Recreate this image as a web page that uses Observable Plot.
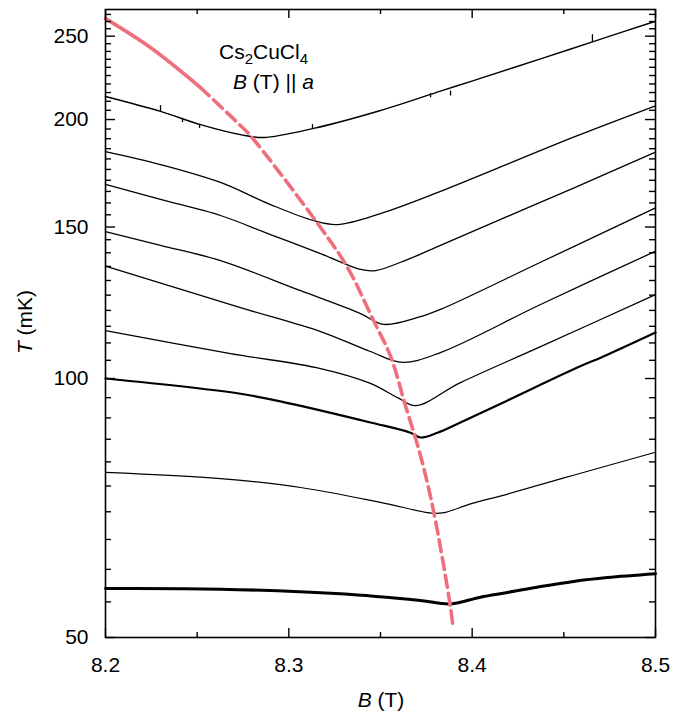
<!DOCTYPE html>
<html><head><meta charset="utf-8">
<script src="https://cdn.jsdelivr.net/npm/d3@7"></script>
<script src="https://cdn.jsdelivr.net/npm/@observablehq/plot@0.6"></script>
<style>body{margin:0;background:#fff} svg{display:block}</style>
</head><body><div id="chart"></div>
<script>
// ---- data (B in tesla, T in mK) ----
const c1B = [8.200, 8.230, 8.2518, 8.2736, 8.2862, 8.3135, 8.350, 8.3827, 8.4007, 8.4373, 8.4656, 8.500];
const c1T = [212.7, 204.4, 197.3, 192.1, 190.6, 195.3, 204.9, 215.8, 222.0, 235.3, 246.2, 260.2];
const c2B = [8.200, 8.230, 8.2627, 8.290, 8.3135, 8.3265, 8.350, 8.3827, 8.4193, 8.4553, 8.500];
const c2T = [183.6, 177.3, 169.0, 159.3, 152.6, 151.0, 155.5, 165.0, 177.5, 190.8, 207.5];
const c3B = [8.200, 8.230, 8.2627, 8.290, 8.3173, 8.3391, 8.3473, 8.3647, 8.3827, 8.4193, 8.4553, 8.500];
const c3T = [168.1, 161.5, 154.7, 147.0, 139.7, 133.9, 133.5, 137.5, 142.8, 154.3, 166.5, 183.3];
const c4B = [8.200, 8.230, 8.2627, 8.3064, 8.3391, 8.3516, 8.3718, 8.3827, 8.4373, 8.500];
const c4T = [148.2, 142.8, 137.1, 126.5, 119.0, 115.6, 118.0, 120.3, 136.5, 157.9];
const c5B = [8.200, 8.2736, 8.3173, 8.3445, 8.3620, 8.3827, 8.4373, 8.500];
const c5T = [135.1, 120.9, 113.4, 107.5, 104.4, 107.2, 121.9, 140.6];
const c6B = [8.200, 8.2682, 8.3173, 8.3445, 8.3593, 8.3691, 8.3936, 8.4373, 8.500];
const c6T = [113.7, 106.9, 102.7, 98.7, 95.0, 93.0, 98.9, 108.9, 125.2];
const c7B = [8.200, 8.2736, 8.3009, 8.3445, 8.3664, 8.3718, 8.3811, 8.3936, 8.4193, 8.4553, 8.4738, 8.500];
const c7T = [100.0, 96.0, 93.5, 88.9, 86.5, 85.4, 86.5, 88.9, 94.3, 102.5, 106.6, 113.1];
const c8B = [8.200, 8.2627, 8.3064, 8.350, 8.3789, 8.3855, 8.3991, 8.4193, 8.4553, 8.500];
const c8T = [77.8, 76.5, 74.7, 71.8, 69.7, 69.9, 71.5, 73.4, 77.2, 82.1];
const c9B = [8.200, 8.2627, 8.3282, 8.3718, 8.3882, 8.4045, 8.4193, 8.4373, 8.4553, 8.4738, 8.500];
const c9T = [57.0, 56.9, 56.2, 55.2, 54.7, 55.7, 56.4, 57.3, 58.1, 58.7, 59.3];
const curveWidths = [1.4, 1.3, 1.3, 1.3, 1.3, 1.3, 2.2, 1.2, 3.0];

// glitches on the top trace: field, from T, to T
const spikeB  = [8.230, 8.242, 8.2513, 8.3129, 8.3773, 8.3882, 8.4656];
const spikeT1 = [204.4, 200.5, 197.3, 195.3, 214.5, 215.8, 246.2];
const spikeT2 = [207.6, 198.4, 195.3, 197.3, 212.0, 213.0, 251.0];

// phase boundary (red)
const bndB = [8.200, 8.2245, 8.2518, 8.2736, 8.279, 8.3173, 8.332, 8.3462, 8.3555, 8.3636, 8.3718, 8.3789, 8.3882, 8.3893];
const bndT = [262, 242.5, 217.9, 196.8, 191.6, 149.8, 134.6, 116.8, 106.1, 93.0, 81.4, 70.2, 54.2, 51.9];
const bndSolidEnd = 8.2518;

// ticks
const xMajor = [8.2, 8.3, 8.4, 8.5];
const xMinor = [8.25, 8.35, 8.45];
const yMajor = [50, 100, 150, 200, 250];
const yMinor = [55,60,65,70,75,80,85,90,95,105,110,115,120,125,130,135,140,145,155,160,165,170,175,180,185,190,195,205,210,215,220,225,230,235,240,245,255,260,265];

// ---- build rows ----
const curves = [[c1B,c1T],[c2B,c2T],[c3B,c3T],[c4B,c4T],[c5B,c5T],[c6B,c6T],[c7B,c7T],[c8B,c8T],[c9B,c9T]];
const rows = [];
curves.forEach(([bs, ts], i) => bs.forEach((b, j) => rows.push({id: i, B: b, T: ts[j]})));
const bnd = bndB.map((b, i) => ({B: b, T: bndT[i]}));
const bndSolid = bnd.filter(d => d.B <= bndSolidEnd);
const bndDash = bnd.filter(d => d.B >= bndSolidEnd);
const spikes = spikeB.map((b, i) => ({B: b, T1: spikeT1[i], T2: spikeT2[i]}));

const W = 686, H = 711, mL = 105, mR = 31, mT = 9, mB = 74;
const pw = W - mL - mR, ph = H - mT - mB;
const red = "#ef707c";

const marks = [];
for (let i = 0; i < curves.length; i++) {
  marks.push(Plot.line(rows.filter(d => d.id === i), {x: "B", y: "T", stroke: "black", strokeWidth: curveWidths[i], curve: "catmull-rom"}));
}
marks.push(Plot.ruleX(spikes, {x: "B", y1: "T1", y2: "T2", stroke: "black", strokeWidth: 1.3}));
marks.push(Plot.line(bndSolid, {x: "B", y: "T", stroke: red, strokeWidth: 3.6, curve: "catmull-rom"}));
marks.push(Plot.line(bndDash, {x: "B", y: "T", stroke: red, strokeWidth: 3.6, strokeDasharray: "12,6", curve: "catmull-rom"}));
// inward ticks
marks.push(Plot.ruleX(xMajor, {x: d => d, insetTop: ph - 9, stroke: "black", strokeWidth: 1.4}));
marks.push(Plot.ruleX(xMajor, {x: d => d, insetBottom: ph - 9, stroke: "black", strokeWidth: 1.4}));
marks.push(Plot.ruleX(xMinor, {x: d => d, insetTop: ph - 5, stroke: "black", strokeWidth: 1.4}));
marks.push(Plot.ruleX(xMinor, {x: d => d, insetBottom: ph - 5, stroke: "black", strokeWidth: 1.4}));
marks.push(Plot.ruleY(yMajor, {y: d => d, insetRight: pw - 10, stroke: "black", strokeWidth: 1.4}));
marks.push(Plot.ruleY(yMajor, {y: d => d, insetLeft: pw - 10, stroke: "black", strokeWidth: 1.4}));
marks.push(Plot.ruleY(yMinor, {y: d => d, insetRight: pw - 6, stroke: "black", strokeWidth: 1.4}));
marks.push(Plot.ruleY(yMinor, {y: d => d, insetLeft: pw - 6, stroke: "black", strokeWidth: 1.4}));
marks.push(Plot.frame({stroke: "black", strokeWidth: 1.6}));
marks.push(Plot.axisX(xMajor, {tickSize: 0, tickPadding: 20, tickFormat: d => d.toFixed(1), label: null}));
marks.push(Plot.axisY(yMajor, {tickSize: 0, tickPadding: 17, tickFormat: d => String(d), label: null}));

const chart = Plot.plot({
  width: W, height: H,
  marginLeft: mL, marginRight: mR, marginTop: mT, marginBottom: mB,
  x: {domain: [8.2, 8.5]},
  y: {type: "log", domain: [50, 268.5]},
  style: {fontFamily: "'Liberation Sans', Arial, sans-serif", fontSize: "21px", color: "black", background: "white"},
  marks
});
document.getElementById("chart").append(chart);

// ---- labels with mixed styles ----
const svg = d3.select(chart);
const font = "'Liberation Sans', Arial, sans-serif";
function addText(x, y, parts, opts = {}) {
  const t = svg.append("text").attr("x", x).attr("y", y)
    .attr("font-family", font).attr("font-size", 21).attr("fill", "black")
    .attr("text-anchor", opts.anchor || "start");
  if (opts.transform) t.attr("transform", opts.transform).attr("x", 0).attr("y", 0);
  parts.forEach(p => {
    const s = t.append("tspan").text(p.t);
    if (p.i) s.attr("font-style", "italic");
    if (p.sub) s.attr("font-size", 15).attr("dy", 5);
    if (p.up) s.attr("dy", -5);
  });
  return t;
}
addText(0, 0, [{t: "T", i: true}, {t: " (mK)"}], {anchor: "middle", transform: "translate(32,322) rotate(-90)"});
addText(381, 707, [{t: "B", i: true}, {t: " (T)"}], {anchor: "middle"});
addText(219, 59, [{t: "Cs"}, {t: "2", sub: true}, {t: "CuCl", up: true}, {t: "4", sub: true}]);
addText(233, 89, [{t: "B", i: true}, {t: " (T) || "}, {t: "a", i: true}]);
</script>
</body></html>
